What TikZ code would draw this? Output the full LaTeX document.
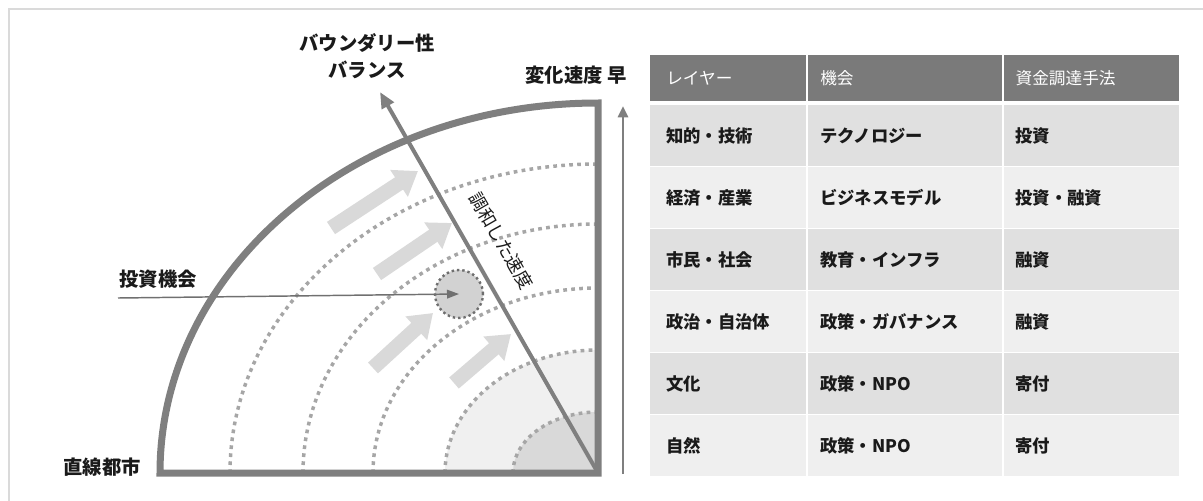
\documentclass[tikz,border=0pt]{standalone}
\usepackage{fontspec}
\setmainfont{Noto Sans CJK JP}
\usetikzlibrary{arrows.meta}
\definecolor{framec}{HTML}{DADADA}
\definecolor{gmain}{HTML}{7F7F7F}
\definecolor{gdot}{HTML}{A6A6A6}
\definecolor{gblock}{HTML}{D9D9D9}
\definecolor{hdr}{HTML}{7A7A7A}
\definecolor{rowA}{HTML}{E0E0E0}
\definecolor{rowB}{HTML}{EFEFEF}
\definecolor{fillL}{HTML}{F0F0F0}
\definecolor{fillD}{HTML}{D9D9D9}
\definecolor{circf}{HTML}{D2D2D2}
\definecolor{circd}{HTML}{6E6E6E}
\definecolor{thinl}{HTML}{707070}
\definecolor{txt}{HTML}{1A1A1A}
\begin{document}
\begin{tikzpicture}[x=0.75pt,y=-0.75pt,
  dotarc/.style={gdot, line width=2.6pt, dash pattern=on 2.8pt off 3.2pt},
  blockarrow/.style={gblock, line width=11pt, -{Triangle[length=17pt,width=23pt]}},
  lbl/.style={text=txt, font=\fontsize{14.5}{17}\selectfont\bfseries, inner sep=0pt},
  cell/.style={anchor=north west, inner ysep=0pt, align=left, text=txt,
    font=\fontsize{13}{15}\selectfont\bfseries, minimum height=45.75pt},
  hcell/.style={cell, fill=hdr, text=white, font=\fontsize{12.5}{15}\selectfont, minimum height=34.5pt},
  ca/.style={minimum width=117pt, text width=93pt, inner xsep=12pt},
  cb/.style={minimum width=145.5pt, text width=127.5pt, inner xsep=9pt},
  cc/.style={minimum width=131.25pt, text width=114.25pt, inner xsep=8.5pt}]
\useasboundingbox (0,0) rectangle (1203,500);
% frame
\draw[framec, line width=1.5pt] (9,520) -- (9,9) -- (1230,9);
% filled inner regions
\fill[fillL] (598,473) -- (445,473) arc[start angle=180,end angle=270,x radius=153,y radius=123] -- cycle;
\fill[fillD] (598,473) -- (513,473) arc[start angle=180,end angle=270,x radius=85,y radius=61] -- cycle;
% dotted arcs
\draw[dotarc] (230,473) arc[start angle=180,end angle=270,x radius=368,y radius=309];
\draw[dotarc] (303,473) arc[start angle=180,end angle=270,x radius=295,y radius=249];
\draw[dotarc] (373,473) arc[start angle=180,end angle=270,x radius=225,y radius=185];
\draw[dotarc] (445,473) arc[start angle=180,end angle=270,x radius=153,y radius=123];
\draw[dotarc] (513,473) arc[start angle=180,end angle=270,x radius=85,y radius=61];
% block arrows
\coordinate (a1s) at (331,228); \coordinate (a1e) at (418,171);
\coordinate (a2s) at (377,274); \coordinate (a2e) at (452,223);
\coordinate (a3s) at (373,368); \coordinate (a3e) at (433,313);
\coordinate (a4s) at (454,383); \coordinate (a4e) at (511,334);
\draw[blockarrow] (a1s) -- (a1e);
\draw[blockarrow] (a2s) -- (a2e);
\draw[blockarrow] (a3s) -- (a3e);
\draw[blockarrow] (a4s) -- (a4e);
% opportunity circle
\node (opp) [circle, minimum size=36pt, inner sep=0pt, fill=circf, draw=circd,
  line width=1.8pt, dash pattern=on 1.8pt off 2.2pt] at (459,294) {};
% investment label + arrow
\node[lbl] (invest) at (158,279) {投資機会};
\coordinate (invs) at (118,298);
\draw[thinl, line width=1.1pt, -{Triangle[length=9pt,width=6.5pt]}] (invs) -- (opp.center);
% outer quarter
\coordinate (corner) at (598,473);
\draw[gmain, line width=5.25pt, line join=miter] (160,473) -- (corner) -- (598,103)
  arc[start angle=270,end angle=180,x radius=438,y radius=370] -- cycle;
% diagonal arrow
\coordinate (btip) at (380,92);
\draw[gmain, line width=3pt, -{Triangle[length=12pt,width=10pt]}] (corner) -- (btip);
% vertical arrow
\coordinate (vs) at (623,474); \coordinate (ve) at (623,106);
\draw[gmain, line width=2.2pt, -{Triangle[length=8.5pt,width=7.5pt]}] (vs) -- (ve);
% labels
\node[lbl] (bnd) at (367,43) {バウンダリー性};
\node[lbl] (bal) at (367,70) {バランス};
\node[lbl] (speed) at (576,75) {変化速度 早};
\node[lbl] (linear) at (102,467) {直線都市};
\node[text=txt, font=\fontsize{13.5}{16}\selectfont, inner sep=0pt, rotate=-60] (harm) at (501,241) {調和した速度};
% table header
\node[hcell, ca] (h1) at (650,55) {レイヤー};
\node[hcell, cb] (h2) at (808,55) {機会};
\node[hcell, cc] (h3) at (1004,55) {資金調達手法};
% table body
\foreach \i/\a/\b/\c/\col in {1/知的・技術/テクノロジー/投資/rowA,
  2/経済・産業/ビジネスモデル/投資・融資/rowB,
  3/市民・社会/教育・インフラ/融資/rowA,
  4/政治・自治体/政策・ガバナンス/融資/rowB,
  5/文化/政策・NPO/寄付/rowA,
  6/自然/政策・NPO/寄付/rowB} {
  \node[cell, ca, fill=\col] (r\i a) at (650,{105+62*(\i-1)}) {\a};
  \node[cell, cb, fill=\col] (r\i b) at (808,{105+62*(\i-1)}) {\b};
  \node[cell, cc, fill=\col] (r\i c) at (1004,{105+62*(\i-1)}) {\c};
}
\end{tikzpicture}
\end{document}
